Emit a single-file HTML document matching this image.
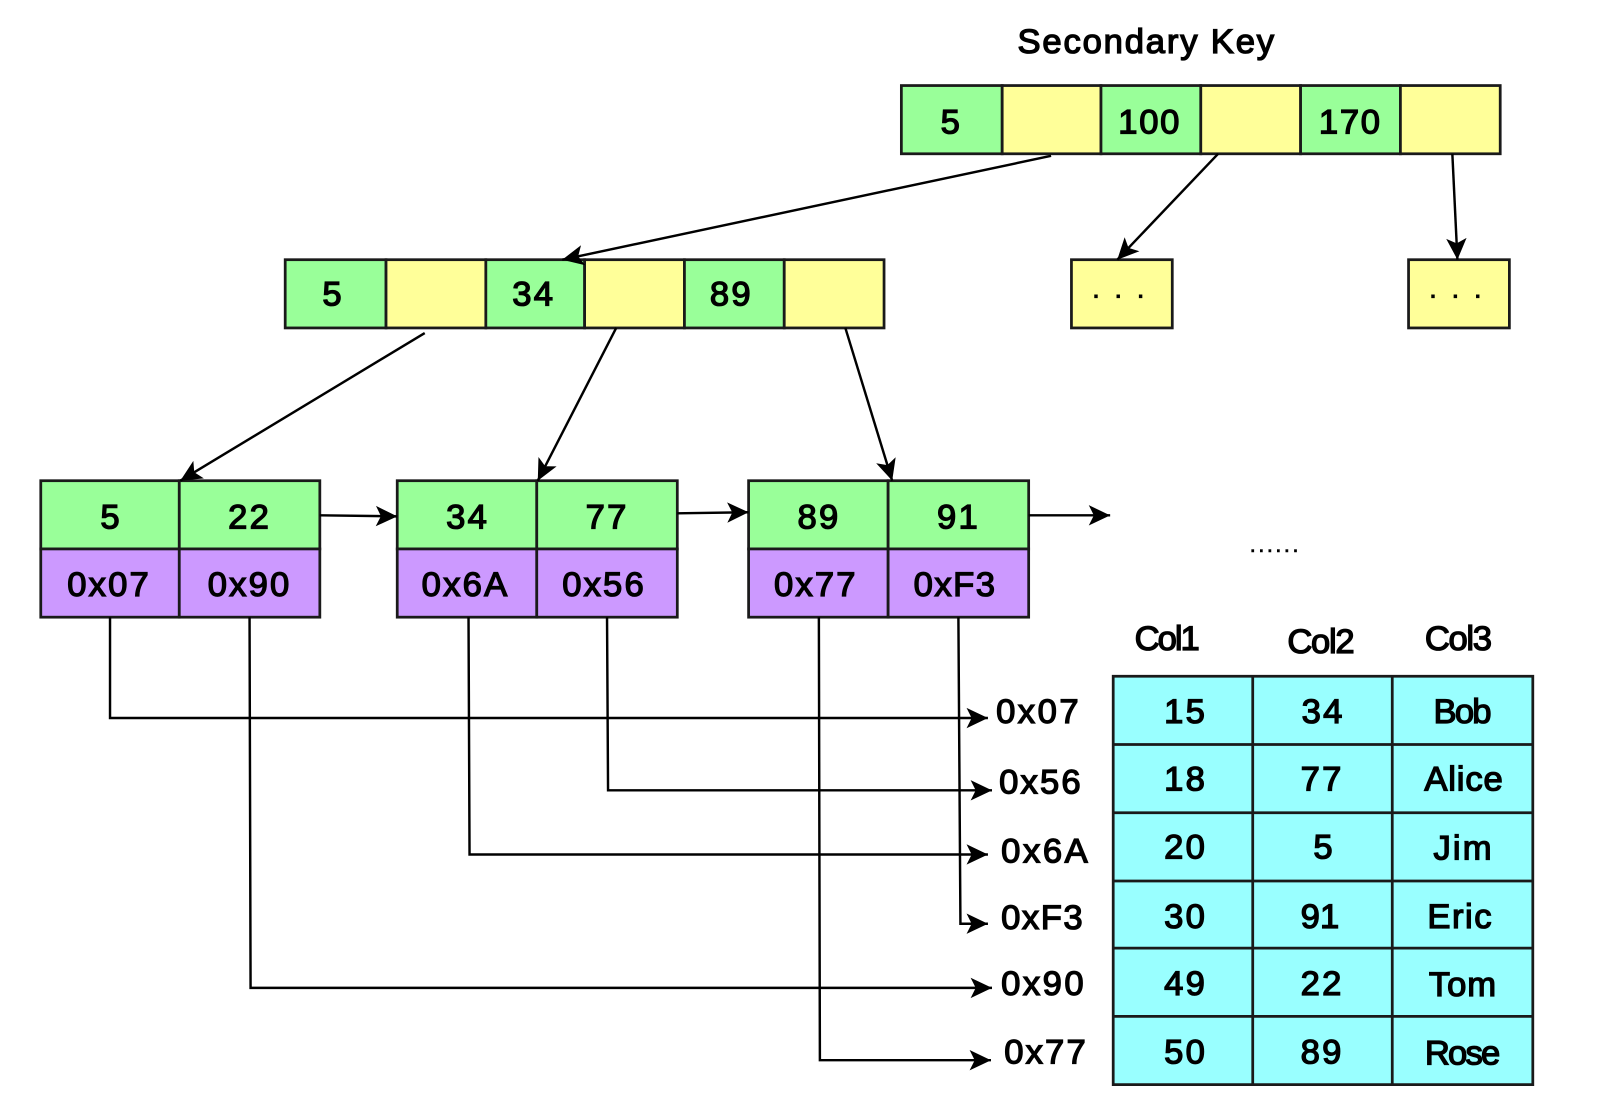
<!DOCTYPE html>
<html><head><meta charset="utf-8"><style>
html,body{margin:0;padding:0;background:#fff}
svg{display:block}
text{font-family:"Liberation Sans",sans-serif;font-size:34px;fill:#000;stroke:#000;stroke-width:1.3px;text-anchor:middle}
.b{stroke:#1a1a1a;stroke-width:2.7}
.l{fill:none;stroke:#000;stroke-width:2.4}
.s{text-anchor:start}
</style></head><body>
<svg xmlns="http://www.w3.org/2000/svg" width="1597" height="1115" viewBox="0 0 1568 1094.8">
<defs><marker id="a" markerUnits="userSpaceOnUse" markerWidth="26" markerHeight="26" refX="22" refY="13" orient="auto"><path d="M1,3 L22,13 L1,23 L6,13 z" fill="#000"/></marker></defs>
<rect width="1568" height="1095" fill="#fff"/>
<g class="b">
<rect x="885" y="84" width="99" height="67" fill="#99ff99"/><rect x="984" y="84" width="97" height="67" fill="#ffff99"/><rect x="1081" y="84" width="98" height="67" fill="#99ff99"/><rect x="1179" y="84" width="98" height="67" fill="#ffff99"/><rect x="1277" y="84" width="98" height="67" fill="#99ff99"/><rect x="1375" y="84" width="98" height="67" fill="#ffff99"/>
<rect x="280" y="255" width="99" height="67" fill="#99ff99"/><rect x="379" y="255" width="98" height="67" fill="#ffff99"/><rect x="477" y="255" width="97" height="67" fill="#99ff99"/><rect x="574" y="255" width="98" height="67" fill="#ffff99"/><rect x="672" y="255" width="98" height="67" fill="#99ff99"/><rect x="770" y="255" width="98" height="67" fill="#ffff99"/>
<rect x="1052" y="255" width="99" height="67" fill="#ffff99"/><rect x="1383" y="255" width="99" height="67" fill="#ffff99"/>
<rect x="40" y="472" width="136" height="67" fill="#99ff99"/><rect x="176" y="472" width="138" height="67" fill="#99ff99"/><rect x="40" y="539" width="136" height="67" fill="#cc99ff"/><rect x="176" y="539" width="138" height="67" fill="#cc99ff"/>
<rect x="390" y="472" width="137" height="67" fill="#99ff99"/><rect x="527" y="472" width="138" height="67" fill="#99ff99"/><rect x="390" y="539" width="137" height="67" fill="#cc99ff"/><rect x="527" y="539" width="138" height="67" fill="#cc99ff"/>
<rect x="735" y="472" width="137" height="67" fill="#99ff99"/><rect x="872" y="472" width="138" height="67" fill="#99ff99"/><rect x="735" y="539" width="137" height="67" fill="#cc99ff"/><rect x="872" y="539" width="138" height="67" fill="#cc99ff"/>
<path d="M1093,664H1505V1065H1093Z" fill="#99ffff"/>
<path d="M1230,664V1065M1367,664V1065M1093,731H1505M1093,798H1505M1093,865H1505M1093,931H1505M1093,998H1505" fill="none"/>
</g>
<g class="l">
<path marker-end="url(#a)" d="M1032,153L552,255"/>
<path marker-end="url(#a)" d="M1196,151L1097,255"/>
<path marker-end="url(#a)" d="M1426,151L1431,255"/>
<path marker-end="url(#a)" d="M417,327L177,472"/>
<path marker-end="url(#a)" d="M605,322L528,472"/>
<path marker-end="url(#a)" d="M830,322L876,472"/>
<path marker-end="url(#a)" d="M314,506L390,507"/>
<path marker-end="url(#a)" d="M665,504L735,503"/>
<path marker-end="url(#a)" d="M1010,506L1090,506"/>
<path marker-end="url(#a)" d="M108,606L108,705L970,705"/>
<path marker-end="url(#a)" d="M245,606L246,970L974,970"/>
<path marker-end="url(#a)" d="M460,606L461,839L970,839"/>
<path marker-end="url(#a)" d="M596,606L597,776L974,776"/>
<path marker-end="url(#a)" d="M804,606L805,1041L973,1041"/>
<path marker-end="url(#a)" d="M941,606L943,907L970,907"/>
</g>
<text x="1125" y="52" textLength="252" lengthAdjust="spacing">Secondary Key</text>
<text x="933" y="131">5</text><text x="1128" y="131" textLength="60">100</text><text x="1325" y="131" textLength="60">170</text>
<text x="326" y="300">5</text><text x="523" y="300" textLength="40">34</text><text x="717" y="300" textLength="40">89</text>
<text x="1098" y="292" style="font-size:22px" textLength="50" lengthAdjust="spacing">. . .</text>
<text x="1429" y="292" style="font-size:22px" textLength="50" lengthAdjust="spacing">. . .</text>
<text x="108" y="519">5</text><text x="244" y="519" textLength="40">22</text><text x="458" y="519" textLength="40">34</text><text x="595" y="519" textLength="40">77</text><text x="803" y="519" textLength="40">89</text><text x="940" y="519" textLength="40">91</text>
<text x="106" y="585" textLength="80">0x07</text><text x="244" y="585" textLength="80">0x90</text><text x="456" y="585" textLength="84">0x6A</text><text x="592" y="585" textLength="80">0x56</text><text x="800" y="585" textLength="80">0x77</text><text x="937" y="585" textLength="80">0xF3</text>
<text x="1251" y="542" style="font-size:22px;stroke-width:.6px" textLength="48" lengthAdjust="spacing">......</text>
<text x="1146" y="638" textLength="64">Col1</text><text x="1297" y="641" textLength="66">Col2</text><text x="1432" y="638" textLength="66">Col3</text>
<text class="s" x="978" y="710" textLength="81">0x07</text><text class="s" x="981" y="779" textLength="80">0x56</text><text class="s" x="983" y="847" textLength="85">0x6A</text><text class="s" x="983" y="912" textLength="80">0xF3</text><text class="s" x="983" y="977" textLength="81">0x90</text><text class="s" x="986" y="1044" textLength="80">0x77</text>
<text x="1163" y="710" textLength="40">15</text><text x="1298" y="710" textLength="40">34</text><text x="1436" y="710" textLength="57">Bob</text>
<text x="1163" y="776" textLength="40">18</text><text x="1297" y="776" textLength="40">77</text><text x="1437" y="776" textLength="77">Alice</text>
<text x="1163" y="843" textLength="40">20</text><text x="1299" y="843">5</text><text x="1436" y="844" textLength="57">Jim</text>
<text x="1163" y="911" textLength="40">30</text><text x="1296" y="911" textLength="38">91</text><text x="1433" y="911" textLength="63">Eric</text>
<text x="1163" y="977" textLength="40">49</text><text x="1297" y="977" textLength="40">22</text><text x="1436" y="978" textLength="66">Tom</text>
<text x="1163" y="1044" textLength="40">50</text><text x="1297" y="1044" textLength="40">89</text><text x="1436" y="1045" textLength="74">Rose</text>
</svg>
</body></html>
